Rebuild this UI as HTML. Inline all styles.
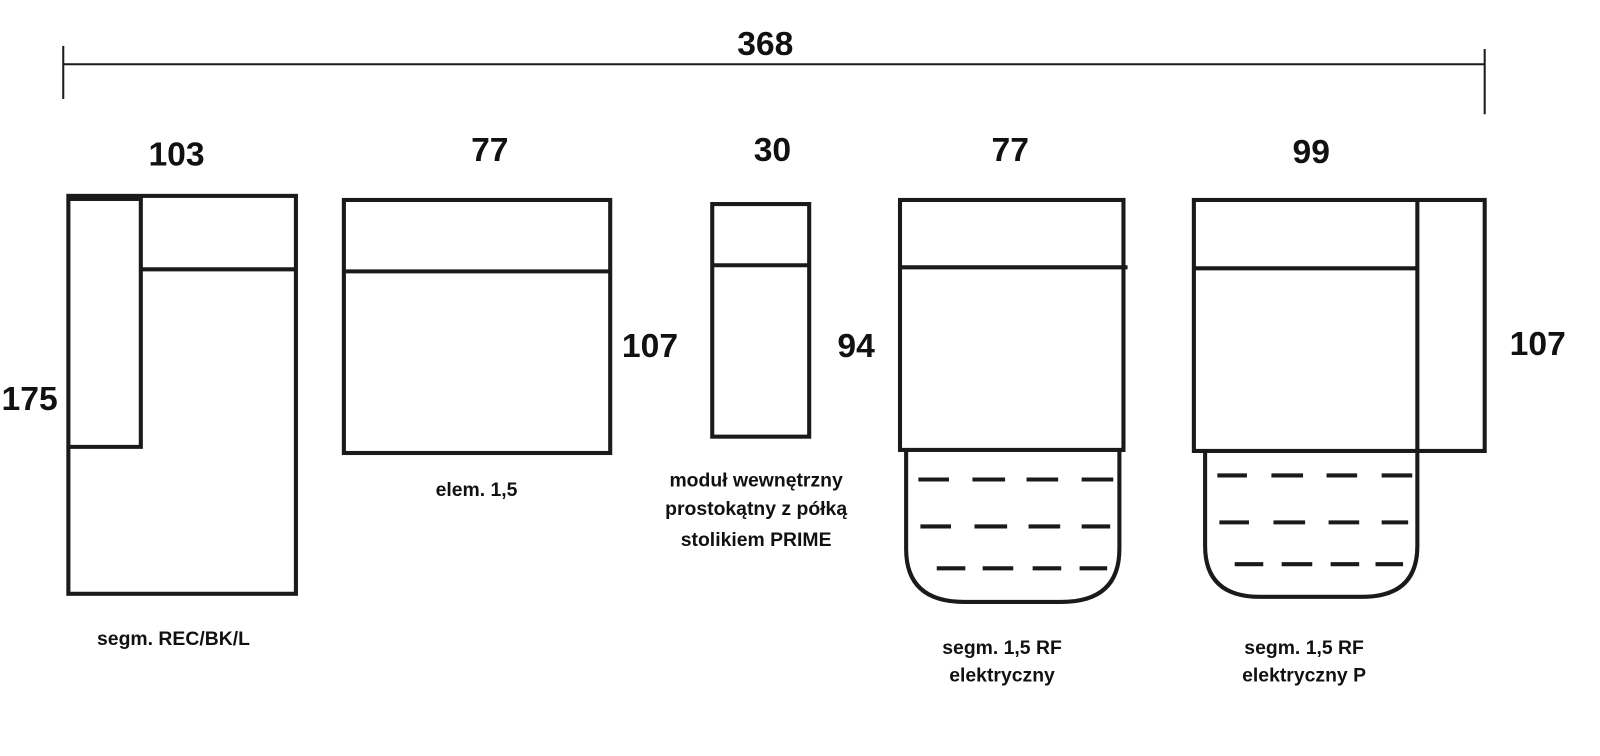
<!DOCTYPE html>
<html><head><meta charset="utf-8"><style>
html,body{margin:0;padding:0;background:#fff;}
svg{display:block;}
text{font-family:"Liberation Sans",sans-serif;font-weight:bold;fill:#111;}
.n{font-size:33px;}
.l{font-size:19px;}
</style></head><body>
<svg width="1600" height="756" viewBox="0 0 1568 741" preserveAspectRatio="none" xmlns="http://www.w3.org/2000/svg">
<g stroke="#1a1a1a" stroke-width="2" fill="none">
<line x1="62" y1="63" x2="1455" y2="63"/>
<line x1="62" y1="45" x2="62" y2="97"/>
<line x1="1455" y1="48" x2="1455" y2="112"/>
</g>
<g stroke="#1a1a1a" stroke-width="4" fill="none">
<rect x="67" y="192" width="223" height="390"/>
<polyline points="67,195 138,195 138,438 67,438"/>
<line x1="138" y1="264" x2="290" y2="264"/>
<rect x="337" y="196" width="261" height="248"/>
<line x1="337" y1="266" x2="598" y2="266"/>
<rect x="698" y="200" width="95" height="228"/>
<line x1="698" y1="260" x2="793" y2="260"/>
<rect x="882" y="196" width="219" height="245"/>
<line x1="882" y1="262" x2="1105" y2="262"/>
<path d="M888,441 L888,538 Q888,590 945,590 L1040,590 Q1097,590 1097,538 L1097,441"/>
<rect x="1170" y="196" width="285" height="246"/>
<line x1="1389" y1="196" x2="1389" y2="442"/>
<line x1="1170" y1="263" x2="1389" y2="263"/>
<path d="M1181,442 L1181,535 Q1181,585 1235,585 L1335,585 Q1389,585 1389,535 L1389,442"/>
</g>
<g stroke="#1a1a1a" stroke-width="4">
<line x1="900" y1="470" x2="930" y2="470"/><line x1="953" y1="470" x2="985" y2="470"/><line x1="1006" y1="470" x2="1037" y2="470"/><line x1="1060" y1="470" x2="1091" y2="470"/>
<line x1="902" y1="516" x2="932" y2="516"/><line x1="955" y1="516" x2="987" y2="516"/><line x1="1008" y1="516" x2="1039" y2="516"/><line x1="1060" y1="516" x2="1088" y2="516"/>
<line x1="918" y1="557" x2="946" y2="557"/><line x1="963" y1="557" x2="993" y2="557"/><line x1="1012" y1="557" x2="1040" y2="557"/><line x1="1058" y1="557" x2="1085" y2="557"/>
<line x1="1193" y1="466" x2="1222" y2="466"/><line x1="1246" y1="466" x2="1277" y2="466"/><line x1="1300" y1="466" x2="1330" y2="466"/><line x1="1354" y1="466" x2="1384" y2="466"/>
<line x1="1195" y1="512" x2="1224" y2="512"/><line x1="1248" y1="512" x2="1279" y2="512"/><line x1="1302" y1="512" x2="1332" y2="512"/><line x1="1354" y1="512" x2="1380" y2="512"/>
<line x1="1210" y1="553" x2="1238" y2="553"/><line x1="1256" y1="553" x2="1286" y2="553"/><line x1="1304" y1="553" x2="1332" y2="553"/><line x1="1348" y1="553" x2="1375" y2="553"/>
</g>
<text class="n" x="750" y="54" text-anchor="middle">368</text>
<text class="n" x="173" y="162" text-anchor="middle">103</text>
<text class="n" x="480" y="158" text-anchor="middle">77</text>
<text class="n" x="757" y="158" text-anchor="middle">30</text>
<text class="n" x="990" y="158" text-anchor="middle">77</text>
<text class="n" x="1285" y="160" text-anchor="middle">99</text>
<text class="n" x="29" y="402" text-anchor="middle">175</text>
<text class="n" x="637" y="350" text-anchor="middle">107</text>
<text class="n" x="839" y="350" text-anchor="middle">94</text>
<text class="n" x="1507" y="348" text-anchor="middle">107</text>
<text class="l" x="170" y="632" text-anchor="middle">segm. REC/BK/L</text>
<text class="l" x="467" y="486" text-anchor="middle">elem. 1,5</text>
<text class="l" x="741" y="477" text-anchor="middle">moduł wewnętrzny</text>
<text class="l" x="741" y="505" text-anchor="middle">prostokątny z półką</text>
<text class="l" x="741" y="535" text-anchor="middle">stolikiem PRIME</text>
<text class="l" x="982" y="641" text-anchor="middle">segm. 1,5 RF</text>
<text class="l" x="982" y="668" text-anchor="middle">elektryczny</text>
<text class="l" x="1278" y="641" text-anchor="middle">segm. 1,5 RF</text>
<text class="l" x="1278" y="668" text-anchor="middle">elektryczny P</text>
</svg>
</body></html>
